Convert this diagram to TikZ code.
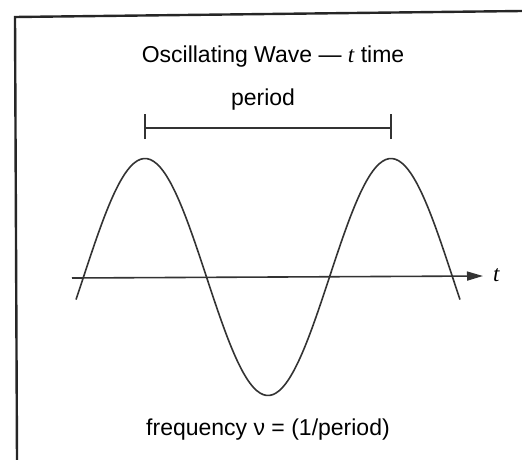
\documentclass[tikz,border=0pt]{standalone}
\usepackage{fontspec}
\setmainfont{Liberation Sans}
\newfontfamily\serifit{Liberation Serif}
\usetikzlibrary{arrows.meta}
\begin{document}
\begin{tikzpicture}[x=1pt,y=-1pt,
  lbl/.style={inner sep=0pt,font=\fontsize{23}{27}\selectfont},
  ln/.style={line width=1.6pt,draw=black!80}]
\useasboundingbox (0,0) rectangle (522,460);
% frame (clipped by the picture edge)
\draw[line width=2.4pt,black!85] (17,460) -- (15,17) -- (522,11);
% title
\node[lbl] (title) at (273,57) {Oscillating Wave --- {\serifit\itshape t} time};
\node[lbl] (per) at (263,100) {period};
% period bar
\coordinate (pa) at (145,128);
\coordinate (pb) at (391,128);
\draw[ln] (pa) -- (pb);
\draw[ln] ([yshift=-11pt]pa) -- ([yshift=14pt]pa);
\draw[ln] ([yshift=-11pt]pb) -- ([yshift=14pt]pb);
% axis
\coordinate (a0) at (72,278);
\coordinate (a1) at (483,276);
\draw[ln,-{Triangle[length=16pt,width=9pt]}] (a0) -- (a1);
\node[lbl,anchor=west] (tl) at (493,275) {\serifit\itshape t};
% wave
\draw[ln,smooth,samples=120,domain=76:460]
  plot (\x,{277-118.5*sin(1.463415*(\x-83.5))});
% bottom label
\node[lbl] (freq) at (268,430) {frequency ν = (1/period)};
\end{tikzpicture}
\end{document}
